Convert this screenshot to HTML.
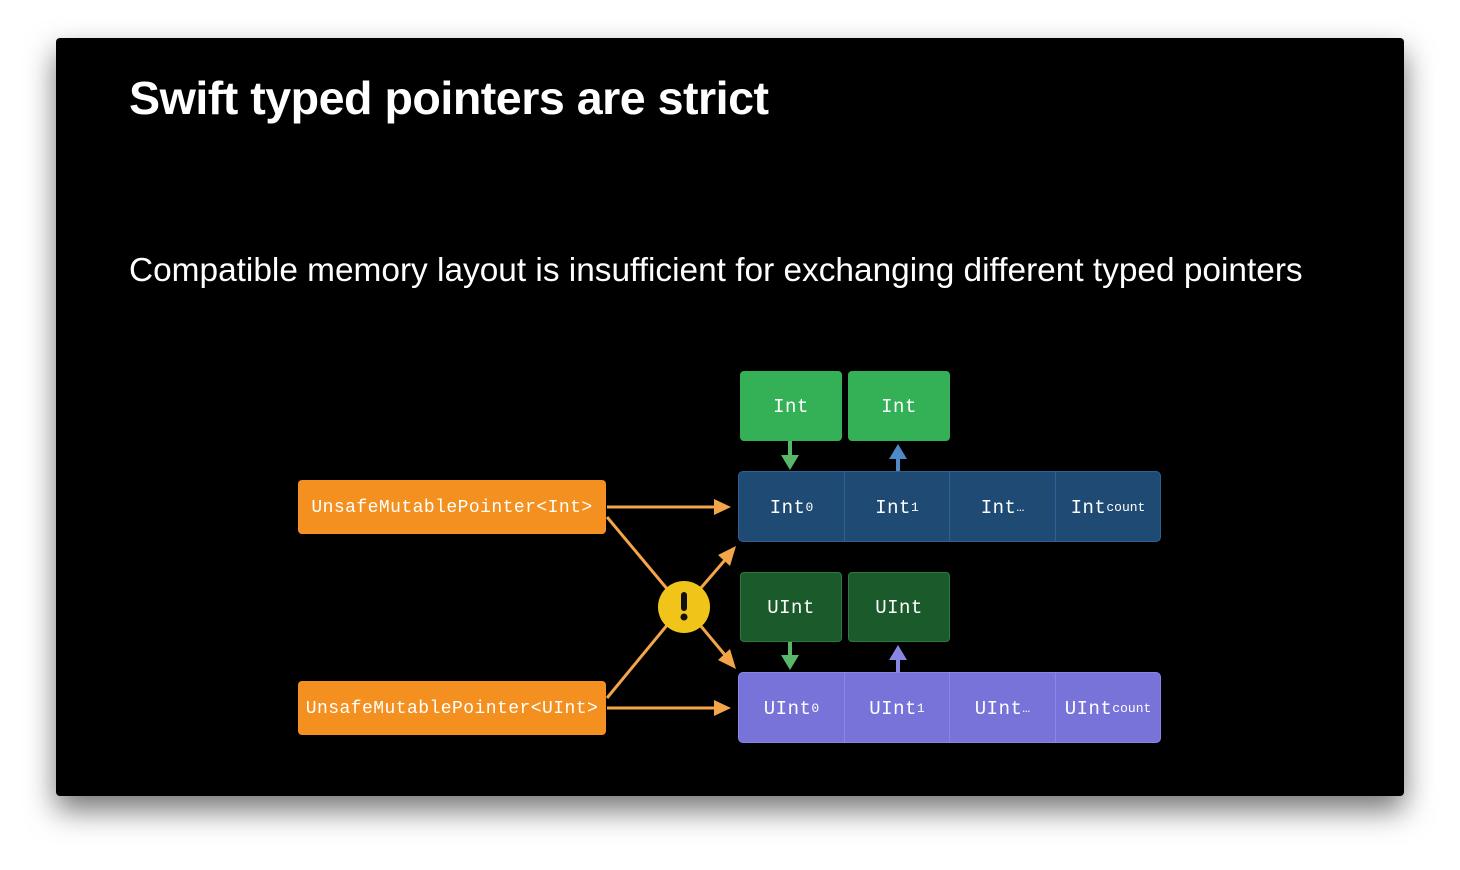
<!DOCTYPE html>
<html><head><meta charset="utf-8"><style>
body{margin:0;width:1460px;height:870px;background:#fff;position:relative;overflow:hidden;font-family:"Liberation Sans",sans-serif}
.slide{position:absolute;left:56px;top:38px;width:1348px;height:758px;background:#000;border-radius:4px;box-shadow:0 14px 30px rgba(0,0,0,.55)}
.t{position:absolute;color:#fff;white-space:nowrap}
.box{position:absolute;display:flex;align-items:center;justify-content:center;color:#fff;font-family:"Liberation Mono",monospace;font-size:19px;border-radius:4px;box-sizing:border-box;letter-spacing:0.5px;padding-top:2px}
sub{font-size:13px;vertical-align:-3px;letter-spacing:0}
</style></head><body>
<div class="slide"></div>
<div class="t" style="left:129px;top:71px;font-size:46.6px;font-weight:bold;letter-spacing:-0.5px">Swift typed pointers are strict</div>
<div class="t" style="left:129px;top:252px;font-size:33.4px">Compatible memory layout is insufficient for exchanging different typed pointers</div>

<div class="box" style="left:298px;top:480px;width:308px;height:54px;background:#f4901f;font-size:18px;letter-spacing:0.45px">UnsafeMutablePointer&lt;Int&gt;</div>
<div class="box" style="left:298px;top:681px;width:308px;height:54px;background:#f4901f;font-size:18px;letter-spacing:0.45px">UnsafeMutablePointer&lt;UInt&gt;</div>

<div class="box" style="left:740px;top:371px;width:102px;height:70px;background:#34b057">Int</div>
<div class="box" style="left:848px;top:371px;width:102px;height:70px;background:#34b057">Int</div>
<div class="box" style="left:740px;top:572px;width:102px;height:70px;background:#1b5a2a;border:1px solid #2c7a3e">UInt</div>
<div class="box" style="left:848px;top:572px;width:102px;height:70px;background:#1b5a2a;border:1px solid #2c7a3e">UInt</div>

<div style="position:absolute;left:738px;top:471px;width:423px;height:71px;background:#1f4a73;border:1px solid #2d6196;border-radius:5px;box-sizing:border-box;display:flex">
<div class="box" style="position:static;flex:0 0 106px;border-right:1px solid #2d6196;border-radius:0">Int<sub>0</sub></div>
<div class="box" style="position:static;flex:0 0 105px;border-right:1px solid #2d6196;border-radius:0">Int<sub>1</sub></div>
<div class="box" style="position:static;flex:0 0 106px;border-right:1px solid #2d6196;border-radius:0">Int<sub>…</sub></div>
<div class="box" style="position:static;flex:1">Int<sub>count</sub></div></div>

<div style="position:absolute;left:738px;top:672px;width:423px;height:71px;background:#7773d9;border:1px solid #8a86e4;border-radius:5px;box-sizing:border-box;display:flex">
<div class="box" style="position:static;flex:0 0 106px;border-right:1px solid #8a86e4;border-radius:0">UInt<sub>0</sub></div>
<div class="box" style="position:static;flex:0 0 105px;border-right:1px solid #8a86e4;border-radius:0">UInt<sub>1</sub></div>
<div class="box" style="position:static;flex:0 0 106px;border-right:1px solid #8a86e4;border-radius:0">UInt<sub>…</sub></div>
<div class="box" style="position:static;flex:1">UInt<sub>count</sub></div></div>

<svg width="1460" height="870" style="position:absolute;left:0;top:0">
<g stroke="#f4a54a" stroke-width="3" fill="#f4a54a">
<line x1="607" y1="507" x2="716" y2="507"/><polygon points="731,507 714,499 714,515" stroke="none"/>
<line x1="607" y1="708" x2="716" y2="708"/><polygon points="731,708 714,700 714,716" stroke="none"/>
<line x1="607" y1="517" x2="668" y2="590"/>
<line x1="607" y1="698" x2="668" y2="624"/>
<line x1="700" y1="589" x2="725" y2="560"/><polygon points="736,546 718,555 730,566" stroke="none"/>
<line x1="700" y1="625" x2="725" y2="655"/><polygon points="736,669 718,660 730,649" stroke="none"/>
</g>
<circle cx="684" cy="607" r="26" fill="#f0c419"/>
<rect x="681" y="592" width="6" height="19" rx="3" fill="#111"/>
<circle cx="684" cy="617" r="3.5" fill="#111"/>
<line x1="790" y1="441" x2="790" y2="457" stroke="#57b86a" stroke-width="4"/><polygon points="781,455 799,455 790,470" fill="#57b86a"/>
<line x1="898" y1="471" x2="898" y2="457" stroke="#4f88c6" stroke-width="4"/><polygon points="889,459 907,459 898,444" fill="#4f88c6"/>
<line x1="790" y1="642" x2="790" y2="657" stroke="#57b86a" stroke-width="4"/><polygon points="781,655 799,655 790,670" fill="#57b86a"/>
<line x1="898" y1="672" x2="898" y2="658" stroke="#8a86e4" stroke-width="4"/><polygon points="889,660 907,660 898,645" fill="#8a86e4"/>
</svg>
</body></html>
